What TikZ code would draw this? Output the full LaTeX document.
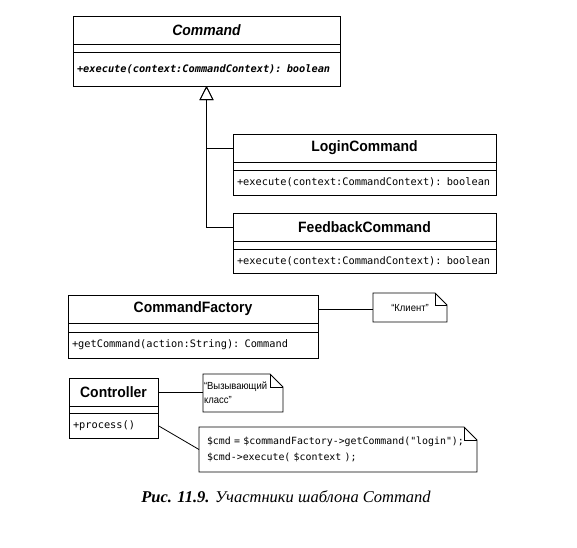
\documentclass[tikz,border=0pt]{standalone}
\usepackage{fontspec}
\setmainfont{Liberation Serif}
\newfontfamily\classfont[FakeStretch=0.93]{Liberation Sans}
\newfontfamily\notefont[FakeStretch=0.92]{Liberation Sans}
\newfontfamily\opfont{DejaVu Sans Mono}
\usetikzlibrary{positioning,arrows.meta}

\tikzset{
  every node/.style={outer sep=0pt},
  ctitle/.style={draw, line width=0.8pt, inner sep=0pt, minimum height=28pt,
    font=\classfont\fontsize{15}{18}\selectfont\bfseries},
  cgap/.style={draw, line width=0.8pt, inner sep=0pt, minimum height=8pt},
  cops/.style={draw, line width=0.8pt, inner xsep=4pt, inner ysep=0pt, align=left,
    font=\opfont\fontsize{10.3}{12}\selectfont},
  umlnote/.style={inner sep=0pt, align=left, font=\notefont\fontsize{10.3}{14}\selectfont},
  link/.style={line width=0.8pt},
  inherit/.style={line width=0.8pt, -{Triangle[open,length=14pt,width=14pt]}},
}

\begin{document}
\begin{tikzpicture}[x=1pt,y=-1pt]
\useasboundingbox (0,0) rectangle (577,547);

% abstract command
\node[ctitle, minimum width=267pt, anchor=north west] (cmdtitle) at (73,16) {\itshape Command};
\node[cgap, minimum width=267pt, below=0pt of cmdtitle] (cmdgap) {};
\node[cops, text width=259pt, minimum height=34pt, below=0pt of cmdgap, font=\opfont\fontsize{10.3}{12}\selectfont\bfseries\itshape] (cmdops) {+execute(context:CommandContext): boolean};

% concrete commands
\node[ctitle, minimum width=263pt, anchor=north west] (logintitle) at (233,134) {LoginCommand};
\node[cgap, minimum width=263pt, below=0pt of logintitle] (logingap) {};
\node[cops, text width=255pt, minimum height=25pt, below=0pt of logingap] (loginops) {+execute(context:CommandContext): boolean};

\node[ctitle, minimum width=263pt, anchor=north west] (fbtitle) at (233,213) {FeedbackCommand};
\node[cgap, minimum width=263pt, below=0pt of fbtitle] (fbgap) {};
\node[cops, text width=255pt, minimum height=24pt, below=0pt of fbgap] (fbops) {+execute(context:CommandContext): boolean};

% client
\node[ctitle, minimum width=250pt, anchor=north west] (cftitle) at (68,295) {CommandFactory};
\node[cgap, minimum width=250pt, minimum height=9pt, below=0pt of cftitle] (cfgap) {};
\node[cops, text width=242pt, minimum height=26pt, below=0pt of cfgap] (cfops) {+getCommand(action:String): Command};

% invoker
\node[ctitle, minimum width=89pt, anchor=north west] (ctltitle) at (69,378) {Controller};
\node[cgap, minimum width=89pt, minimum height=7pt, below=0pt of ctltitle] (ctlgap) {};
\node[cops, text width=81pt, minimum height=25pt, below=0pt of ctlgap] (ctlops) {+process()};

% notes
\node[umlnote, minimum width=74pt, minimum height=29pt, anchor=north west, align=center] (client) at (373,293) {“Клиент”};
\node[umlnote, text width=78pt, minimum height=38pt, inner xsep=1pt, anchor=north west] (invoker) at (203,374) {“Вызывающий\\класс”};
\node[umlnote, text width=262pt, minimum height=45pt, inner xsep=8pt, anchor=north west,
  font=\opfont\fontsize{9.9}{16}\selectfont] (code) at (199,427)
  {\$cmd = \$commandFactory->getCommand("login");\\\$cmd->execute( \$context );};

\foreach \n/\f in {client/12, invoker/13, code/13}{
  \draw[link] (\n.south west) -- (\n.north west) -- ([xshift=-\f pt]\n.north east)
    -- ([yshift=-\f pt]\n.north east) -- (\n.south east) -- cycle;
  \draw[link] ([xshift=-\f pt]\n.north east) |- ([yshift=-\f pt]\n.north east);
}

% connectors
\coordinate (hub) at (cmdops.south);
\draw[inherit] (logintitle.west) -| (hub);
\draw[inherit] (fbtitle.west) -| (hub);
\draw[link] (cftitle.east) -- (cftitle.east -| client.west);
\draw[link] (ctltitle.east) -- (ctltitle.east -| invoker.west);
\draw[link] (ctlops.east) -- (code.west);

\node[font=\itshape\fontsize{16.5}{18}\selectfont] (caption) at (286,497)
  {\textbf{Рис. 11.9.} Участники шаблона Command};
\end{tikzpicture}
\end{document}
